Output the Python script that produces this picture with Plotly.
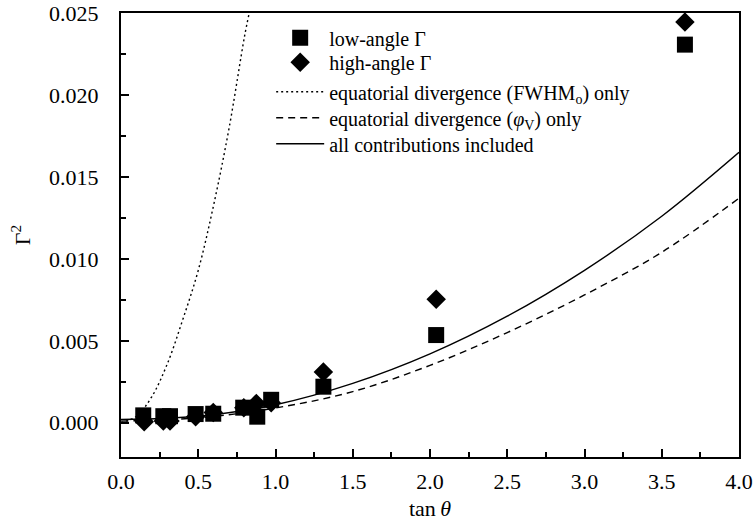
import plotly.graph_objects as go

# ---- data ----
low_x = [0.144, 0.274, 0.317, 0.483, 0.597, 0.791, 0.882, 0.972, 1.31, 2.04, 3.65]
low_y = [0.00045, 0.00040, 0.00040, 0.00053, 0.00055, 0.00092, 0.00037, 0.00140, 0.00220, 0.00535, 0.02307]

high_x = [0.150, 0.274, 0.317, 0.483, 0.597, 0.795, 0.876, 0.972, 1.31, 2.04, 3.65]
high_y = [0.00006, 0.00010, 0.00010, 0.00037, 0.00063, 0.00092, 0.00118, 0.00122, 0.00310, 0.00753, 0.02445]

dot_x = [0.0, 0.1, 0.2, 0.3, 0.4, 0.5, 0.6, 0.7, 0.8, 0.83]
dot_y = [0.0000, 0.0004, 0.0016, 0.0036, 0.0063, 0.0093, 0.0133, 0.0180, 0.0236, 0.0250]

curve_x = [0.0, 0.5, 1.0, 1.5, 2.0, 2.5, 3.0, 3.5, 4.0]
dash_y = [0.0001, 0.0003, 0.0009, 0.0019, 0.0035, 0.0055, 0.0078, 0.0104, 0.0137]
solid_y = [0.0002, 0.0004, 0.0011, 0.0024, 0.0042, 0.0065, 0.0093, 0.0126, 0.0165]

x_ticks = [0.0, 0.5, 1.0, 1.5, 2.0, 2.5, 3.0, 3.5, 4.0]
y_ticks = [0.000, 0.005, 0.010, 0.015, 0.020, 0.025]

names = [
    "low-angle Γ",
    "high-angle Γ",
    "equatorial divergence (FWHM<sub>o</sub>) only",
    "equatorial divergence (<i>φ</i><sub>V</sub>) only",
    "all contributions included",
]

FONT = "Liberation Serif"

fig = go.Figure()
fig.add_trace(go.Scatter(x=low_x, y=low_y, mode="markers", name=names[0], legend="legend",
                         marker=dict(symbol="square", size=16, color="black", line=dict(width=0))))
fig.add_trace(go.Scatter(x=high_x, y=high_y, mode="markers", name=names[1], legend="legend2",
                         marker=dict(symbol="diamond", size=15, color="black", line=dict(width=0))))
fig.add_trace(go.Scatter(x=dot_x, y=dot_y, mode="lines", name=names[2], line_shape="spline", legend="legend3",
                         line=dict(color="black", width=1.4, dash="2px,3px")))
fig.add_trace(go.Scatter(x=curve_x, y=dash_y, mode="lines", name=names[3], line_shape="spline", legend="legend4",
                         line=dict(color="black", width=1.4, dash="7px,5px")))
fig.add_trace(go.Scatter(x=curve_x, y=solid_y, mode="lines", name=names[4], line_shape="spline", legend="legend5",
                         line=dict(color="black", width=1.4)))

axis_common = dict(
    showline=True, linecolor="black", linewidth=2, mirror=True,
    ticks="inside", ticklen=8, tickwidth=1.5, tickcolor="black",
    showgrid=False, zeroline=False, automargin=False,
    ticklabeloverflow="allow",
    tickfont=dict(family=FONT, size=22, color="black"),
)

fig.update_xaxes(
    range=[0, 4], tickvals=x_ticks, tickformat=".1f",
    minor=dict(ticks="inside", ticklen=5, tickwidth=1.5, tickcolor="black", dtick=0.25, showgrid=False),
    title=dict(text="tan\u2009<i>θ</i>", font=dict(family=FONT, size=22, color="black"), standoff=7),
    ticklabelstandoff=4,
    **axis_common,
)
fig.update_yaxes(
    range=[-0.00209, 0.025], tickvals=y_ticks, tickformat=".3f",
    minor=dict(ticks="inside", ticklen=5, tickwidth=1.5, tickcolor="black", dtick=0.0025, tick0=0, showgrid=False),
    title=dict(text="Γ<sup>2</sup>", font=dict(family=FONT, size=22, color="black"), standoff=12),
    ticklabelstandoff=16,
    **axis_common,
)

leg_common = dict(x=0.243, xanchor="left", yanchor="middle", bgcolor="rgba(0,0,0,0)", borderwidth=0,
                  font=dict(family=FONT, size=20, color="black"), itemwidth=48)
row_y = [0.944, 0.889, 0.8225, 0.764, 0.7055]

fig.update_layout(
    width=754, height=527,
    margin=dict(l=121, r=15, t=13, b=70),
    paper_bgcolor="white", plot_bgcolor="white",
    font=dict(family=FONT, size=20, color="black"),
    showlegend=True,
    legend=dict(y=row_y[0], **leg_common),
    legend2=dict(y=row_y[1], **leg_common),
    legend3=dict(y=row_y[2], **leg_common),
    legend4=dict(y=row_y[3], **leg_common),
    legend5=dict(y=row_y[4], **leg_common),
)

# remove the page's default 8px body margin so the figure fills the window exactly
fig.write_html("out.html", config={"displayModeBar": False},
               post_script="document.body.style.margin='0';document.body.style.overflow='hidden';")
